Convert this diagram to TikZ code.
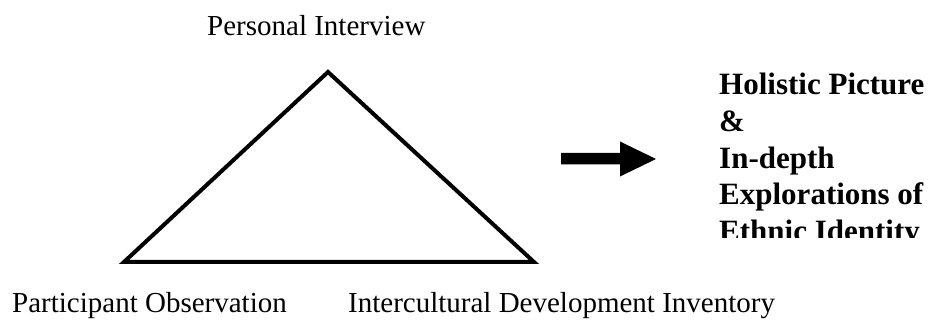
\documentclass[tikz,border=0pt]{standalone}
\usepackage{fontspec}
\setmainfont{Liberation Serif}
\begin{document}
\begin{tikzpicture}[x=1pt,y=-1pt,
  lbl/.style={anchor=base west,inner sep=0pt,font=\fontsize{29}{35}\selectfont},
  res/.style={anchor=base west,inner sep=0pt,font=\fontsize{31}{37}\selectfont\bfseries},
  tri/.style={line width=4pt,line join=miter},
  bigarrow/.style={fill=black,draw=none}]
\useasboundingbox (0,0) rectangle (932,320);
% triangle
\coordinate (top) at (328,72);
\coordinate (bl) at (124,262);
\coordinate (br) at (534,262);
\draw[tri] (top) -- (bl) -- (br) -- cycle;
% labels
\node[lbl] (pi) at (207,36) {Personal Interview};
\node[lbl] (po) at (12,313) {Participant Observation};
\node[lbl] (idi) at (348,313) {Intercultural Development Inventory};
% block arrow
\fill[bigarrow] (561,153) -- (620,153) -- (620,141.5) -- (656,159) -- (620,176.5) -- (620,164.5) -- (561,164.5) -- cycle;
% result text
\node[res] (r1) at (719,95) {Holistic Picture};
\node[res] (r2) at (719,131.6) {\&};
\node[res] (r3) at (719,168.2) {In-depth};
\node[res] (r4) at (719,204.8) {Explorations of};
\begin{scope}
\clip (700,0) rectangle (932,238);
\node[res] (r5) at (719,241.4) {Ethnic Identity};
\end{scope}
\end{tikzpicture}
\end{document}
